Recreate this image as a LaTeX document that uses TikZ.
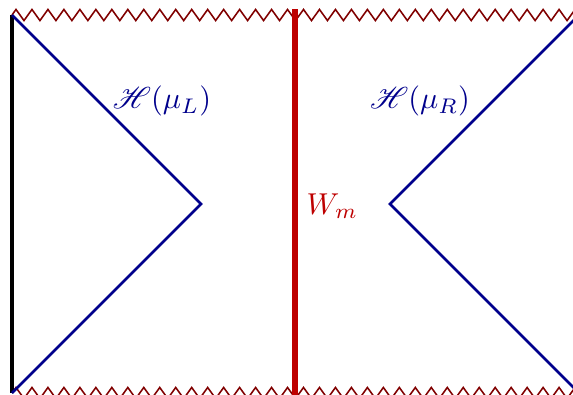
\documentclass[tikz,border=0pt]{standalone}
\usepackage{mathrsfs}
\usetikzlibrary{decorations.pathmorphing}
\definecolor{horizon}{RGB}{0,0,140}
\definecolor{wall}{RGB}{190,0,0}
\definecolor{sing}{RGB}{128,0,0}

\begin{document}
\begin{tikzpicture}[x=0.288pt, y=-0.288pt,
  singularity/.style={draw=sing, line width=0.45pt, decorate,
                      decoration={zigzag, segment length=4.6pt, amplitude=1.6pt}},
  horizonline/.style={draw=horizon, line width=0.75pt},
  boundary/.style={draw=black, line width=1.2pt},
  brane/.style={draw=wall, line width=1.75pt},
  tag/.style={scale=0.87, inner sep=2pt}
]
\useasboundingbox (0,0) rectangle (573,394);
\clip (0,0) rectangle (573,394);

% corners of the diagram
\coordinate (tl) at (12,15);
\coordinate (bl) at (12,393);
\coordinate (tr) at (579,15);
\coordinate (br) at (579,393);
\coordinate (apexL) at (201,204);
\coordinate (apexR) at (390,204);
\coordinate (wtop) at (295,9);
\coordinate (wbot) at (295,400);

% singularities
\draw[singularity] (tl) -- (596,15);
\draw[singularity] (bl) -- (596,393);

% boundary and wall
\draw[boundary] (tl) -- (bl);
\draw[brane] (wtop) -- (wbot);

% horizons
\draw[horizonline] (tl) -- (apexL) -- (bl);
\draw[horizonline] (tr) -- (apexR) -- (br);

\node[tag, text=horizon] (hL) at (162,101) {$\mathscr{H}(\mu_L)$};
\node[tag, text=horizon] (hR) at (420,101) {$\mathscr{H}(\mu_R)$};
\node[tag, text=wall, anchor=west] (wm) at (300,206) {$W_m$};
\end{tikzpicture}
\end{document}
